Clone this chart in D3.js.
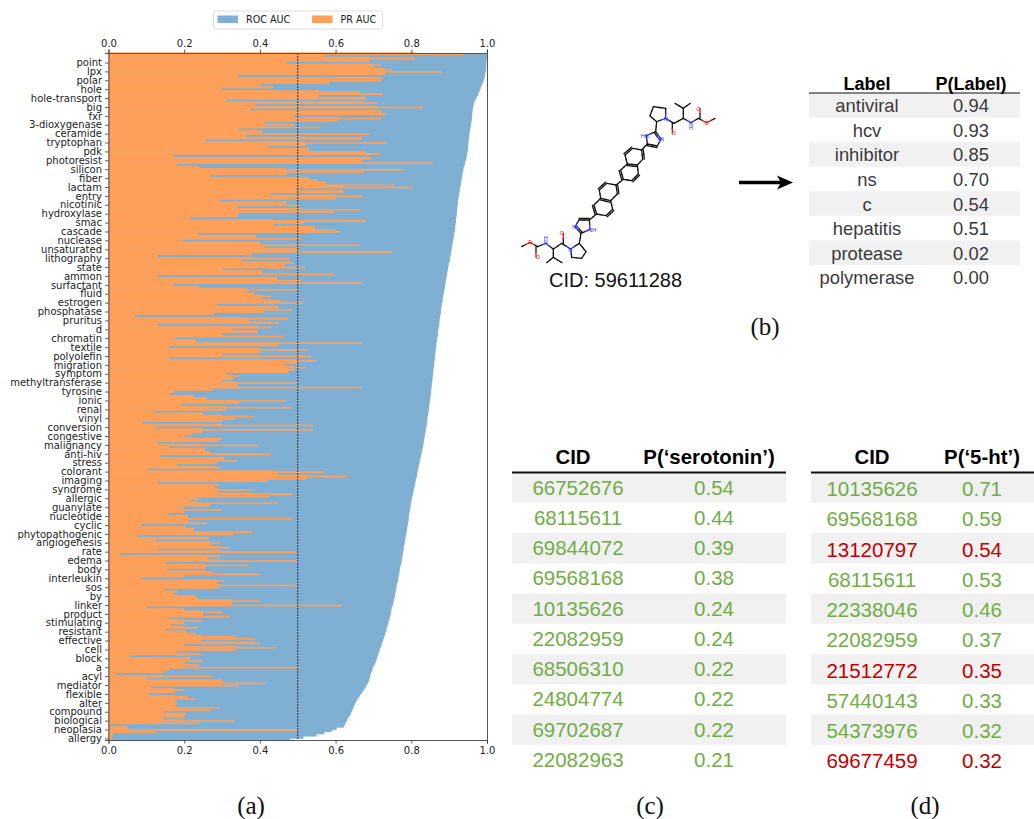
<!DOCTYPE html>
<html>
<head>
<meta charset="utf-8">
<script src="https://cdn.jsdelivr.net/npm/d3@7"></script>
<style>
  html, body { margin: 0; padding: 0; background: #fff; }
  svg { display: block; }
  .axis text { font-family: "DejaVu Sans", sans-serif; font-size: 10px; fill: #222; }
  .axis line { stroke: #333; stroke-width: 0.8; }
  .axis path { stroke: #555; stroke-width: 1; }
  .sans { font-family: "Liberation Sans", Arial, sans-serif; }
  .serif { font-family: "Liberation Serif", "Times New Roman", serif; }
</style>
</head>
<body>
<div id="root"></div>
<script>
// panel (a): one label every 4 rows
const termLabels = ['point','lpx','polar','hole','hole-transport','big','fxr','3-dioxygenase','ceramide','tryptophan',
  'pdk','photoresist','silicon','fiber','lactam','entry','nicotinic','hydroxylase','smac','cascade',
  'nuclease','unsaturated','lithography','state','ammon','surfactant','fluid','estrogen','phosphatase','pruritus',
  'd','chromatin','textile','polyolefin','migration','symptom','methyltransferase','tyrosine','ionic','renal',
  'vinyl','conversion','congestive','malignancy','anti-hiv','stress','colorant','imaging','syndrome','allergic',
  'guanylate','nucleotide','cyclic','phytopathogenic','angiogenesis','rate','edema','body','interleukin','sos',
  'by','linker','product','stimulating','resistant','effective','cell','block','a','acyl',
  'mediator','flexible','alter','compound','biological','neoplasia','allergy'];

const rocAuc = [1,1,.999,.999,.998,.998,.998,.997,.996,.995,
  .994,.992,.99,.988,.985,.983,.981,.978,.976,.973,
  .97,.967,.965,.964,.963,.962,.961,.961,.96,.96,
  .959,.958,.957,.956,.955,.954,.953,.953,.952,.951,
  .951,.95,.95,.949,.948,.947,.946,.945,.943,.942,
  .94,.938,.937,.936,.935,.934,.933,.932,.931,.93,
  .929,.928,.927,.926,.925,.924,.923,.923,.922,.921,
  .921,.92,.92,.919,.918,.918,.917,.916,.916,.915,
  .914,.913,.912,.911,.91,.909,.908,.907,.906,.905,
  .904,.903,.902,.901,.899,.898,.897,.896,.895,.894,
  .893,.892,.891,.89,.889,.888,.887,.886,.885,.884,
  .883,.882,.881,.88,.879,.878,.878,.877,.876,.875,
  .874,.874,.873,.872,.871,.87,.87,.869,.868,.867,
  .866,.866,.865,.864,.864,.863,.862,.862,.861,.86,
  .86,.859,.858,.858,.857,.856,.856,.855,.854,.854,
  .853,.852,.852,.851,.85,.85,.849,.848,.847,.847,
  .846,.845,.844,.843,.842,.842,.841,.84,.839,.838,
  .837,.836,.835,.834,.833,.832,.831,.83,.828,.827,
  .826,.825,.823,.822,.821,.82,.818,.817,.816,.815,
  .814,.812,.811,.81,.809,.807,.806,.805,.804,.802,
  .801,.8,.799,.798,.797,.796,.795,.794,.793,.793,
  .792,.791,.79,.789,.788,.787,.786,.785,.784,.783,
  .782,.781,.78,.779,.778,.777,.776,.775,.774,.773,
  .771,.77,.769,.768,.767,.766,.765,.764,.762,.761,
  .76,.759,.758,.757,.756,.754,.753,.752,.75,.748,
  .747,.746,.745,.743,.742,.74,.739,.737,.735,.734,
  .732,.73,.728,.726,.724,.722,.72,.718,.716,.714,
  .712,.71,.708,.706,.704,.7,.698,.696,.694,.692,
  .691,.689,.687,.684,.68,.677,.673,.669,.665,.661,
  .657,.654,.651,.648,.646,.643,.641,.638,.634,.631,
  .628,.625,.622,.603,.59,.57,.55,.515,.48];

const prAuc = [.94,.57,.81,.69,.47,.72,.70,.75,.88,.73,
  .34,.72,.72,.585,.40,.435,.30,.665,.725,.555,
  .68,.31,.71,.39,.83,.375,.72,.735,.49,.72,
  .605,.41,.49,.56,.345,.405,.69,.36,.67,.255,
  .735,.52,.42,.53,.68,.72,.17,.695,.67,.857,
  .18,.24,.78,.675,.47,.27,.53,.55,.575,.757,
  .805,.495,.62,.425,.67,.60,
  .295,.47,.505,.34,.665,.595,.345,.34,.215,.68,
  .515,.435,.545,.60,.61,.235,.39,.51,.195,.40,
  .665,.41,.50,.75,.38,.13,.48,.35,.49,.465,
  .52,.30,.405,.595,.13,.445,.51,.67,.17,.24,
  .50,.365,.385,.43,.405,.455,.515,.285,.45,.485,
  .41,.28,.07,.475,.37,.45,.13,.43,.325,.395,
  .30,.465,.175,.23,.67,.45,.16,.525,.40,.30,
  .535,.16,.55,.50,.465,.52,.49,.475,.31,.345,
  .33,.30,.50,.34,.67,.275,.175,.16,.225,.26,
  .47,.345,.19,.485,.31,.12,.25,.385,.335,.30,
  .09,.54,.125,.54,.25,.22,.20,.30,.29,.13,
  .395,.16,.255,.27,.43,.135,.305,.34,.285,.18,
  .295,.10,.57,.445,.63,.525,.42,.13,.29,.28,
  .38,.29,.485,.425,.235,.215,.45,.27,.20,.30,
  .20,.155,.21,.485,.21,.26,.085,.205,.225,.38,
  .33,.075,.265,.125,.295,.27,.32,.13,.495,.03,
  .295,.26,.50,.15,.37,.255,.155,.275,.40,.20,
  .085,.305,.285,.50,.295,.145,.18,.17,.23,.237,
  .40,.325,.615,.10,.20,.30,.25,.32,.16,.25,
  .20,.165,.235,.15,.205,.23,.335,.385,.245,.40,
  .20,.445,.335,.18,.245,.055,.215,.25,.20,.24,
  .505,.16,.145,.02,.275,.10,.30,.415,.345,.11,
  .20,.175,.105,.21,.23,.175,.18,.18,.295,.27,
  .145,.205,.20,.145,.335,.24,.005,.05,.50,.125,
  .01,.01,.01];

// panel (b)
const labelNames = ['antiviral','hcv','inhibitor','ns','c','hepatitis','protease','polymerase'];
const labelProbs = ['0.94','0.93','0.85','0.70','0.54','0.51','0.02','0.00'];

// panel (c)
const serotoninCids = ['66752676','68115611','69844072','69568168','10135626','22082959','68506310','24804774','69702687','22082963'];
const serotoninProbs = ['0.54','0.44','0.39','0.38','0.24','0.24','0.22','0.22','0.22','0.21'];

// panel (d)
const htCids = ['10135626','69568168','13120797','68115611','22338046','22082959','21512772','57440143','54373976','69677459'];
const htProbs = ['0.71','0.59','0.54','0.53','0.46','0.37','0.35','0.33','0.32','0.32'];
const htWrong = [false,false,true,false,false,false,true,false,false,true];

// molecule bonds in crop coordinates: x1,y1,x2,y2, colour of the 2nd half
const singleBonds = [
  [615,145,590,158,'r'],[565,145,590,158,'r'],[565,145,543,158,'b'],[520,145,543,158,'b'],
  [520,145,520,115,'k'],[520,115,495,100,'k'],[520,115,541,100,'k'],[520,145,492,160,'k'],
  [492,160,467,145,'b'],[440,155,467,145,'b'],[467,115,467,145,'b'],[467,115,430,110,'k'],
  [430,110,420,138,'k'],[420,138,440,155,'k'],[440,155,437,185,'k'],[437,185,409,197,'b'],
  [412,222,409,197,'b'],[412,222,442,228,'k'],[442,228,453,207,'b'],[437,185,453,207,'b'],
  [412,222,395,240,'k'],[395,240,368,235,'k'],[368,235,345,255,'k'],[345,255,352,282,'k'],
  [352,282,382,285,'k'],[382,285,398,268,'k'],[398,268,395,240,'k'],[352,282,332,300,'k'],
  [332,300,340,328,'k'],[340,328,365,332,'k'],[365,332,385,312,'k'],[385,312,382,285,'k'],
  [340,328,318,345,'k'],[318,345,290,340,'k'],[290,340,268,360,'k'],[268,360,272,385,'k'],
  [272,385,302,392,'k'],[302,392,322,372,'k'],[322,372,318,345,'k'],[272,385,252,405,'k'],
  [252,405,260,432,'k'],[260,432,288,437,'k'],[288,437,308,418,'k'],[308,418,302,392,'k'],
  [260,432,238,450,'k'],[238,450,207,450,'k'],[207,450,195,470,'b'],[213,490,195,470,'b'],
  [213,490,240,478,'b'],[238,450,240,478,'b'],[213,490,208,520,'k'],[208,520,182,537,'b'],
  [208,520,228,545,'k'],[228,545,215,565,'k'],[215,565,185,562,'k'],[185,562,182,537,'b'],
  [155,520,182,537,'b'],[155,520,130,537,'k'],[130,537,130,562,'k'],[130,562,110,578,'k'],
  [130,562,156,578,'k'],[130,537,107,520,'b'],[83,530,107,520,'b'],[83,530,60,517,'r'],[35,530,60,517,'r']
];
const doubleBonds = [
  [565,145,565,115,'r'],[492,160,492,190,'r'],[155,520,155,490,'r'],[83,530,83,562,'r'],
  [368,235,345,255,'k'],[352,282,382,285,'k'],[398,268,395,240,'k'],[332,300,340,328,'k'],
  [365,332,385,312,'k'],[290,340,268,360,'k'],[272,385,302,392,'k'],[322,372,318,345,'k'],
  [252,405,260,432,'k'],[288,437,308,418,'k'],[412,222,442,228,'k'],[437,185,453,207,'b'],
  [238,450,207,450,'k'],[213,490,195,470,'b']
];
const atomLabels = [
  ['O',590,160,'r'],['O',565,117,'r'],['N',543,162,'b'],['H',543,174,'b'],['O',492,190,'r'],['N',467,147,'b'],
  ['HN',404,197,'b'],['N',456,207,'b'],['N',193,470,'b'],['NH',247,481,'b'],['N',181,539,'b'],
  ['O',156,488,'r'],['N',107,517,'b'],['H',107,505,'b'],['O',84,562,'r'],['O',60,517,'r']
];
const atomColors = { k: '#111', b: '#2a2aee', r: '#ee1111' };

const width = 1034;
const height = 819;
const svg = d3.select('#root').append('svg').attr('width', width).attr('height', height);

const xScale = d3.scaleLinear().domain([0, 1]).range([108.5, 487]);
const yScale = d3.scaleBand().domain(d3.range(rocAuc.length)).range([53, 740]);
const labelRows = termLabels.map((d, i) => (i + 1) * 4);
const band = yScale.bandwidth();

// bars
svg.append('g').selectAll('rect').data(rocAuc).enter().append('rect')
  .attr('x', xScale(0))
  .attr('y', (d, i) => yScale(i))
  .attr('width', d => xScale(d) - xScale(0))
  .attr('height', band + 1)
  .attr('fill', '#7fafd3');

// the rows are thinner than a pixel or two in the original, so the solid part of
// each row overlaps its neighbours and whatever sticks out is only a thin line
const prBody = prAuc.map((d, i) => Math.min(d, d3.median(prAuc.slice(Math.max(0, i - 2), i + 3))));
svg.append('g').selectAll('rect').data(prBody).enter().append('rect')
  .attr('x', xScale(0))
  .attr('y', (d, i) => yScale(i) - 0.6)
  .attr('width', d => xScale(d) - xScale(0))
  .attr('height', band + 0.2)
  .attr('fill', '#ffa05a');
svg.append('g').selectAll('rect').data(prAuc).enter().append('rect')
  .attr('x', xScale(0))
  .attr('y', (d, i) => yScale(i) + band / 2 - 0.85)
  .attr('width', d => xScale(d) - xScale(0))
  .attr('height', 1.7)
  .attr('fill', '#ffa05a');

// dashed 0.5 line
svg.append('line')
  .attr('x1', xScale(0.5)).attr('x2', xScale(0.5))
  .attr('y1', 53).attr('y2', 740)
  .attr('stroke', '#333')
  .attr('stroke-width', 1)
  .attr('stroke-dasharray', '2,1');

// axes
svg.append('g').attr('class', 'axis').attr('transform', 'translate(0,53)')
  .call(d3.axisTop(xScale).ticks(5).tickSize(3.5).tickPadding(3).tickFormat(d3.format('.1f')));
svg.append('g').attr('class', 'axis').attr('transform', 'translate(0,740)')
  .call(d3.axisBottom(xScale).ticks(5).tickSize(3.5).tickPadding(3).tickFormat(d3.format('.1f')));
svg.append('g').attr('class', 'axis').attr('transform', 'translate(108.5,0)')
  .call(d3.axisLeft(yScale).tickValues(labelRows).tickSize(3.5).tickPadding(3)
    .tickFormat(i => termLabels[i / 4 - 1]));
svg.append('g').attr('class', 'axis').attr('transform', 'translate(487,0)')
  .call(d3.axisRight(yScale).tickValues([]).tickSize(0));

// legend
const legend = svg.append('g');
legend.append('rect').attr('x', 213.5).attr('y', 11).attr('width', 169).attr('height', 18).attr('rx', 2)
  .attr('fill', '#fff').attr('stroke', '#ddd');
[['ROC AUC', '#7fafd3', 217.5], ['PR AUC', '#ffa05a', 312]].forEach(d => {
  legend.append('rect').attr('x', d[2]).attr('y', 15.5).attr('width', 20.5).attr('height', 7.5).attr('fill', d[1]);
  legend.append('text').attr('x', d[2] + 28.5).attr('y', 23.2).text(d[0])
    .style('font-family', '"DejaVu Sans", sans-serif').style('font-size', '9.6px').attr('fill', '#222');
});

// molecule
const molX = d3.scaleLinear().domain([0, 720]).range([510, 750]);
const molY = d3.scaleLinear().domain([0, 690]).range([70, 300]);
const mol = svg.append('g').attr('stroke-linecap', 'round');

function halfBond(b, offX, offY) {
  const mx = (b[0] + b[2]) / 2, my = (b[1] + b[3]) / 2;
  mol.append('line')
    .attr('x1', molX(b[0] + offX)).attr('y1', molY(b[1] + offY))
    .attr('x2', molX(mx + offX)).attr('y2', molY(my + offY))
    .attr('stroke', atomColors.k).attr('stroke-width', 1.3);
  mol.append('line')
    .attr('x1', molX(mx + offX)).attr('y1', molY(my + offY))
    .attr('x2', molX(b[2] + offX)).attr('y2', molY(b[3] + offY))
    .attr('stroke', atomColors[b[4]]).attr('stroke-width', 1.3);
}
singleBonds.forEach(b => halfBond(b, 0, 0));
doubleBonds.forEach(b => {
  const dx = b[2] - b[0], dy = b[3] - b[1], len = Math.hypot(dx, dy);
  halfBond(b, -dy / len * 5, dx / len * 5);
});
mol.selectAll('text').data(atomLabels).enter().append('text')
  .attr('x', d => molX(d[1])).attr('y', d => molY(d[2]) + 2)
  .attr('text-anchor', 'middle')
  .attr('class', 'sans')
  .style('font-size', '5.5px')
  .attr('fill', d => atomColors[d[3]])
  .text(d => d[0]);

svg.append('text').attr('class', 'sans').attr('x', 615.5).attr('y', 287)
  .attr('text-anchor', 'middle').style('font-size', '20px').attr('fill', '#111').text('CID: 59611288');

// arrow
svg.append('path')
  .attr('d', 'M739,180.8 H780 L777,175.5 L793,182.5 L777,189.5 L780,184.2 H739 Z')
  .attr('fill', '#000');

// tables
function drawTable(opts) {
  const g = svg.append('g').attr('class', 'sans');
  const rows = d3.scaleBand().domain(d3.range(opts.first.length)).range([opts.top, opts.bottom]);
  g.selectAll('rect').data(opts.first).enter().append('rect')
    .filter((d, i) => i % 2 === 0)
    .attr('x', opts.left).attr('width', opts.right - opts.left)
    .attr('y', d => rows(opts.first.indexOf(d)))
    .attr('height', rows.bandwidth())
    .attr('fill', '#f1f1f1');
  g.append('line')
    .attr('x1', opts.left).attr('x2', opts.right)
    .attr('y1', opts.top).attr('y2', opts.top)
    .attr('stroke', '#111').attr('stroke-width', opts.rule);
  opts.heads.forEach((h, i) => {
    g.append('text').attr('x', opts.headX[i]).attr('y', opts.headY)
      .attr('text-anchor', 'middle').style('font-weight', 'bold').style('font-size', opts.headSize + 'px')
      .attr('fill', '#000').text(h);
  });
  [opts.first, opts.second].forEach((col, c) => {
    g.selectAll('text.c' + c).data(col).enter().append('text')
      .attr('class', 'c' + c)
      .attr('x', opts.colX[c])
      .attr('y', (d, i) => rows(i) + rows.bandwidth() / 2 + opts.shift)
      .attr('text-anchor', 'middle')
      .style('font-size', opts.size + 'px')
      .attr('fill', (d, i) => opts.color(i))
      .text(d => d);
  });
}

drawTable({
  first: labelNames, second: labelProbs, heads: ['Label', 'P(Label)'],
  left: 809, right: 1020, top: 93, bottom: 289.5, rule: 1.2,
  headX: [867, 971], headY: 89.5, headSize: 18, colX: [867, 971], size: 18.4, shift: 7,
  color: () => '#3a3a3a'
});
drawTable({
  first: serotoninCids, second: serotoninProbs, heads: ['CID', 'P(‘serotonin’)'],
  left: 512, right: 786, top: 472.5, bottom: 775, rule: 2,
  headX: [573, 709], headY: 464, headSize: 20.4, colX: [578, 714], size: 20.5, shift: 7,
  color: () => '#70ad47'
});
drawTable({
  first: htCids, second: htProbs, heads: ['CID', 'P(‘5-ht’)'],
  left: 811, right: 1034, top: 472.5, bottom: 775, rule: 2,
  headX: [872, 982], headY: 464, headSize: 20.4, colX: [872, 982], size: 20.5, shift: 8.5,
  color: i => htWrong[i] ? '#c00000' : '#70ad47'
});

// captions
[['(a)', 251, 814], ['(b)', 765, 335], ['(c)', 650, 814], ['(d)', 925, 814]].forEach(d => {
  svg.append('text').attr('class', 'serif').attr('x', d[1]).attr('y', d[2])
    .attr('text-anchor', 'middle').style('font-size', '25px').attr('fill', '#111').text(d[0]);
});
</script>
</body>
</html>
